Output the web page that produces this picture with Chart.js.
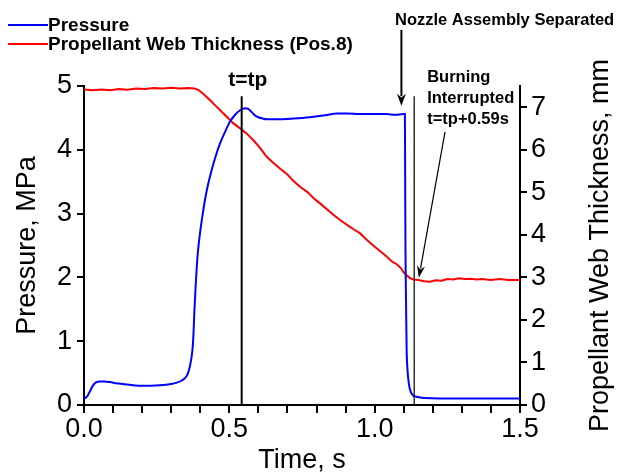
<!DOCTYPE html>
<html>
<head>
<meta charset="utf-8">
<script src="https://cdn.jsdelivr.net/npm/chart.js@4/dist/chart.umd.min.js"></script>
<style>
  html, body { margin: 0; padding: 0; background: #fff; }
  canvas { display: block; }
</style>
</head>
<body>
<canvas id="chart" width="621" height="473"></canvas>
<script>
// Pressure trace (MPa, left axis)
const pressureTime = [0.000, 0.010, 0.020, 0.030, 0.040, 0.055, 0.070, 0.090, 0.112, 0.150, 0.204, 0.261, 0.300, 0.319, 0.335, 0.347, 0.356, 0.364, 0.370, 0.374, 0.377, 0.380, 0.384, 0.388, 0.393, 0.399, 0.407, 0.416, 0.427, 0.439, 0.453, 0.468, 0.485, 0.502, 0.520, 0.537, 0.554, 0.565, 0.575, 0.588, 0.600, 0.615, 0.628, 0.674, 0.720, 0.777, 0.830, 0.870, 0.904, 0.950, 1.000, 1.041, 1.070, 1.100, 1.104, 1.105, 1.106, 1.108, 1.110, 1.113, 1.116, 1.121, 1.127, 1.135, 1.144, 1.170, 1.300, 1.500];
const pressureMPa = [0.10, 0.13, 0.21, 0.30, 0.35, 0.37, 0.37, 0.36, 0.34, 0.32, 0.30, 0.31, 0.33, 0.35, 0.38, 0.42, 0.48, 0.60, 0.75, 0.91, 1.15, 1.49, 1.85, 2.17, 2.45, 2.69, 2.95, 3.21, 3.46, 3.68, 3.90, 4.10, 4.28, 4.44, 4.55, 4.62, 4.65, 4.64, 4.60, 4.54, 4.51, 4.49, 4.48, 4.48, 4.49, 4.51, 4.54, 4.57, 4.57, 4.56, 4.56, 4.56, 4.55, 4.56, 4.56, 3.50, 2.43, 1.60, 0.86, 0.55, 0.39, 0.25, 0.18, 0.14, 0.13, 0.11, 0.10, 0.10];

// Propellant web thickness (mm, right axis)
const webTime = [0.00, 0.03, 0.06, 0.09, 0.12, 0.15, 0.18, 0.21, 0.24, 0.27, 0.30, 0.33, 0.36, 0.38, 0.393, 0.41, 0.433, 0.455, 0.479, 0.50, 0.514, 0.542, 0.56, 0.582, 0.605, 0.628, 0.65, 0.674, 0.70, 0.72, 0.743, 0.77, 0.79, 0.812, 0.84, 0.86, 0.881, 0.91, 0.93, 0.949, 0.97, 0.99, 1.018, 1.04, 1.06, 1.076, 1.09, 1.10, 1.11, 1.12, 1.133, 1.15, 1.17, 1.19, 1.21, 1.23, 1.25, 1.27, 1.29, 1.31, 1.33, 1.35, 1.37, 1.40, 1.43, 1.46, 1.50];
const webThickness = [7.42, 7.40, 7.42, 7.40, 7.43, 7.41, 7.44, 7.43, 7.45, 7.44, 7.46, 7.44, 7.45, 7.44, 7.41, 7.32, 7.17, 7.02, 6.86, 6.72, 6.62, 6.48, 6.38, 6.23, 6.05, 5.84, 5.70, 5.56, 5.42, 5.27, 5.13, 5.00, 4.86, 4.74, 4.58, 4.46, 4.35, 4.21, 4.12, 4.04, 3.90, 3.78, 3.62, 3.50, 3.37, 3.31, 3.22, 3.12, 3.05, 2.99, 2.95, 2.94, 2.91, 2.90, 2.93, 2.92, 2.96, 2.95, 2.98, 2.96, 2.97, 2.95, 2.96, 2.94, 2.96, 2.94, 2.94];

// Right axis tick labels (mm)
const thicknessTicks = [0, 1, 2, 3, 4, 5, 6, 7];

// Event markers (s)
const tPeak = 0.5425;
const tInterrupt = 1.136;
const tNozzle = 1.092;

const FONT = "'Liberation Sans', Arial, Helvetica, sans-serif";

function toPoints(xs, ys) {
    return xs.map((x, i) => ({ x: x, y: ys[i] }));
}

function arrow(ctx, x1, y1, x2, y2, headLen, headWidth) {
    const ang = Math.atan2(y2 - y1, x2 - x1);
    ctx.beginPath();
    ctx.moveTo(x1, y1);
    ctx.lineTo(x2 - Math.cos(ang) * headLen * 0.8, y2 - Math.sin(ang) * headLen * 0.8);
    ctx.stroke();
    ctx.beginPath();
    ctx.moveTo(x2, y2);
    ctx.lineTo(x2 - Math.cos(ang) * headLen + Math.sin(ang) * headWidth / 2,
               y2 - Math.sin(ang) * headLen - Math.cos(ang) * headWidth / 2);
    ctx.lineTo(x2 - Math.cos(ang) * headLen * 0.7, y2 - Math.sin(ang) * headLen * 0.7);
    ctx.lineTo(x2 - Math.cos(ang) * headLen - Math.sin(ang) * headWidth / 2,
               y2 - Math.sin(ang) * headLen + Math.cos(ang) * headWidth / 2);
    ctx.closePath();
    ctx.fill();
}

// markers, arrows, notes, right title and the stacked legend
const notesPlugin = {
    id: 'notes',
    afterDraw(chart) {
        const ctx = chart.ctx;
        const x = chart.scales.x, y = chart.scales.y, y1 = chart.scales.y1;
        ctx.save();
        ctx.strokeStyle = '#000';
        ctx.fillStyle = '#000';

        // t = tp line
        const lineTop = y.getPixelForValue(4.84);
        ctx.lineWidth = 2;
        ctx.beginPath();
        ctx.moveTo(x.getPixelForValue(tPeak), y.getPixelForValue(0));
        ctx.lineTo(x.getPixelForValue(tPeak), lineTop);
        ctx.stroke();

        // burning interrupted line
        ctx.lineWidth = 1.2;
        ctx.beginPath();
        ctx.moveTo(x.getPixelForValue(tInterrupt), y.getPixelForValue(0));
        ctx.lineTo(x.getPixelForValue(tInterrupt), lineTop);
        ctx.stroke();

        // nozzle arrow
        ctx.lineWidth = 2;
        const nx = x.getPixelForValue(tNozzle);
        arrow(ctx, nx, y.getPixelForValue(5.88), nx, y.getPixelForValue(4.69), 12, 9);

        // burning interrupted arrow
        ctx.lineWidth = 1.2;
        arrow(ctx, x.getPixelForValue(1.242), y1.getPixelForValue(6.42),
                   x.getPixelForValue(1.152), y1.getPixelForValue(2.99), 12, 8);

        ctx.textBaseline = 'middle';
        ctx.font = 'bold 21px ' + FONT;
        ctx.textAlign = 'center';
        ctx.fillText('t=tp', x.getPixelForValue(tPeak) + 6, 80);

        ctx.font = 'bold 16.5px ' + FONT;
        ctx.textAlign = 'left';
        ctx.fillText('Nozzle Assembly Separated', 395, 20);
        const bx = x.getPixelForValue(tInterrupt) + 13;
        ctx.fillText('Burning', bx, 77);
        ctx.fillText('Interrupted', bx, 98);
        ctx.fillText('t=tp+0.59s', bx, 119);

        // right axis title, reading bottom to top
        ctx.save();
        ctx.translate(601, (chart.chartArea.top + chart.chartArea.bottom) / 2);
        ctx.rotate(-Math.PI / 2);
        ctx.textAlign = 'center';
        ctx.font = '27px ' + FONT;
        ctx.fillText('Propellant Web Thickness, mm', 0, 0);
        ctx.restore();

        // legend
        ctx.font = 'bold 19px ' + FONT;
        ctx.textAlign = 'left';
        chart.data.datasets.forEach((ds, i) => {
            const ly = 25 + i * 19;
            ctx.strokeStyle = ds.borderColor;
            ctx.lineWidth = 2;
            ctx.beginPath();
            ctx.moveTo(8, ly);
            ctx.lineTo(48, ly);
            ctx.stroke();
            ctx.fillStyle = '#000';
            ctx.fillText(ds.label, 48, ly + 1);
        });
        ctx.restore();
    }
};

const tickFont = { family: FONT, size: 27 };
const titleFont = { family: FONT, size: 27, lineHeight: 1 };

new Chart(document.getElementById('chart'), {
    type: 'line',
    data: {
        datasets: [
            {
                label: 'Pressure',
                data: toPoints(pressureTime, pressureMPa),
                borderColor: '#0000ff',
                borderWidth: 2,
                pointRadius: 0,
                cubicInterpolationMode: 'monotone',
                yAxisID: 'y'
            },
            {
                label: 'Propellant Web Thickness (Pos.8)',
                data: toPoints(webTime, webThickness),
                borderColor: '#ff0000',
                borderWidth: 2,
                pointRadius: 0,
                tension: 0,
                yAxisID: 'y1'
            }
        ]
    },
    options: {
        responsive: false,
        animation: false,
        devicePixelRatio: 1,
        layout: { padding: { top: 86, left: 0, right: 0, bottom: 0 } },
        plugins: {
            legend: { display: false },
            tooltip: { enabled: false }
        },
        scales: {
            x: {
                type: 'linear',
                min: 0,
                max: 1.5,
                ticks: {
                    stepSize: 0.1,
                    autoSkip: false,
                    maxRotation: 0,
                    padding: 0,
                    color: '#000',
                    font: tickFont,
                    callback: v => Math.abs(v * 2 - Math.round(v * 2)) < 1e-6 ? v.toFixed(1) : ''
                },
                grid: { drawOnChartArea: false, tickLength: 8, color: '#000', lineWidth: 2 },
                border: { color: '#000', width: 2 },
                title: { display: true, text: 'Time, s', color: '#000', font: titleFont, padding: { top: 0, bottom: -1 } },
                afterFit: s => { s.height = 68; }
            },
            y: {
                position: 'left',
                min: 0,
                max: 5,
                ticks: { stepSize: 1, padding: 5, color: '#000', font: tickFont },
                grid: { drawOnChartArea: false, tickLength: 7, color: '#000', lineWidth: 2 },
                border: { color: '#000', width: 2 },
                title: { display: true, text: 'Pressure, MPa', color: '#000', font: titleFont, padding: { top: 14, bottom: 0 } },
                afterFit: s => { s.width = 84; }
            },
            y1: {
                position: 'right',
                min: 0,
                max: 7.5,
                ticks: { padding: 4, color: '#000', font: tickFont },
                afterBuildTicks: s => { s.ticks = thicknessTicks.map(v => ({ value: v })); },
                grid: { drawOnChartArea: false, tickLength: 7, color: '#000', lineWidth: 2 },
                border: { color: '#000', width: 2 },
                afterFit: s => { s.width = 101; }
            }
        }
    },
    plugins: [notesPlugin]
});
</script>
</body>
</html>
